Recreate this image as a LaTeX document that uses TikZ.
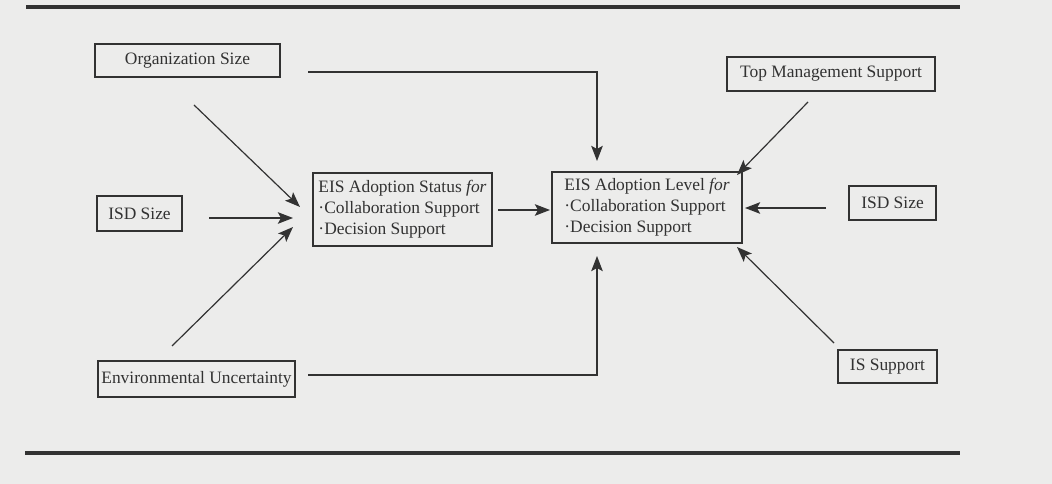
\documentclass[tikz,border=0pt]{standalone}
\usepackage{fontspec}
\setmainfont{Liberation Serif}
\usetikzlibrary{arrows.meta, positioning, calc}
\definecolor{paper}{RGB}{236,236,235}
\definecolor{ink}{RGB}{50,50,50}

\begin{document}
\begin{tikzpicture}[
  box/.style={draw=ink, line width=1.3pt, fill=paper, text=ink, font=\fontsize{12.4}{14.8}\selectfont, inner sep=0pt, align=left},
  arr/.style={draw=ink, line width=0.85pt, -{Stealth[length=3.8mm, width=2.9mm, inset=0.8mm]}}
]
  \fill[paper] (0,0) rectangle (26.3,12.1);
  \useasboundingbox (0,0) rectangle (26.3,12.1);

  % rules above and below
  \draw[ink, line width=2.4pt] (0.65,11.925) -- (24,11.925);
  \draw[ink, line width=2.4pt] (0.625,0.775) -- (24,0.775);

  % left factors
  \node[box, minimum width=4.625cm, minimum height=0.825cm] (orgsize) at (4.6875,10.5875) {Organization Size};
  \node[box, minimum width=2.125cm, minimum height=0.875cm] (isdleft) at (3.4875,6.7625) {ISD Size};
  \node[box, minimum width=4.925cm, minimum height=0.9cm] (envunc) at (4.9125,2.625) {Environmental Uncertainty};

  % adoption status and level
  \node[box, minimum width=4.475cm, minimum height=1.825cm] (status) at (10.0625,6.8625) {EIS Adoption Status \textit{for}\\ \textperiodcentered Collaboration Support\\ \textperiodcentered Decision Support};
  \node[box, minimum width=4.75cm, minimum height=1.775cm] (level) at (16.175,6.9125) {EIS Adoption Level \textit{for}\\ \textperiodcentered Collaboration Support\\ \textperiodcentered Decision Support};

  % right factors
  \node[box, minimum width=5.2cm, minimum height=0.85cm] (topmgmt) at (20.775,10.25) {Top Management Support};
  \node[box, minimum width=2.175cm, minimum height=0.85cm] (isdright) at (22.3125,7.025) {ISD Size};
  \node[box, minimum width=2.475cm, minimum height=0.825cm] (issupport) at (22.1875,2.9375) {IS Support};

  % arrow ends
  \coordinate (orgT) at (4.85,9.475);
  \coordinate (orgH) at (7.5,6.925);
  \coordinate (isdlT) at (5.225,6.65);
  \coordinate (isdlH) at (7.325,6.65);
  \coordinate (envT) at (4.3,3.45);
  \coordinate (envH) at (7.325,6.425);
  \coordinate (stT) at (12.45,6.85);
  \coordinate (stH) at (13.75,6.85);
  \coordinate (orgL) at (7.7,10.3);
  \coordinate (lvTop) at (14.925,8.075);
  \coordinate (envL) at (7.7,2.725);
  \coordinate (lvBot) at (14.925,5.7);
  \coordinate (topT) at (20.2,9.55);
  \coordinate (topH) at (18.425,7.725);
  \coordinate (isdrT) at (20.65,6.9);
  \coordinate (isdrH) at (18.625,6.9);
  \coordinate (issT) at (20.85,3.525);
  \coordinate (issH) at (18.425,5.925);

  % into adoption status
  \draw[arr] (orgT) -- (orgH);
  \draw[arr] (isdlT) -- (isdlH);
  \draw[arr] (envT) -- (envH);
  \draw[arr] (stT) -- (stH);

  % into adoption level
  \draw[arr] (orgL) -| (lvTop);
  \draw[arr] (envL) -| (lvBot);
  \draw[arr] (topT) -- (topH);
  \draw[arr] (isdrT) -- (isdrH);
  \draw[arr] (issT) -- (issH);
\end{tikzpicture}
\end{document}
